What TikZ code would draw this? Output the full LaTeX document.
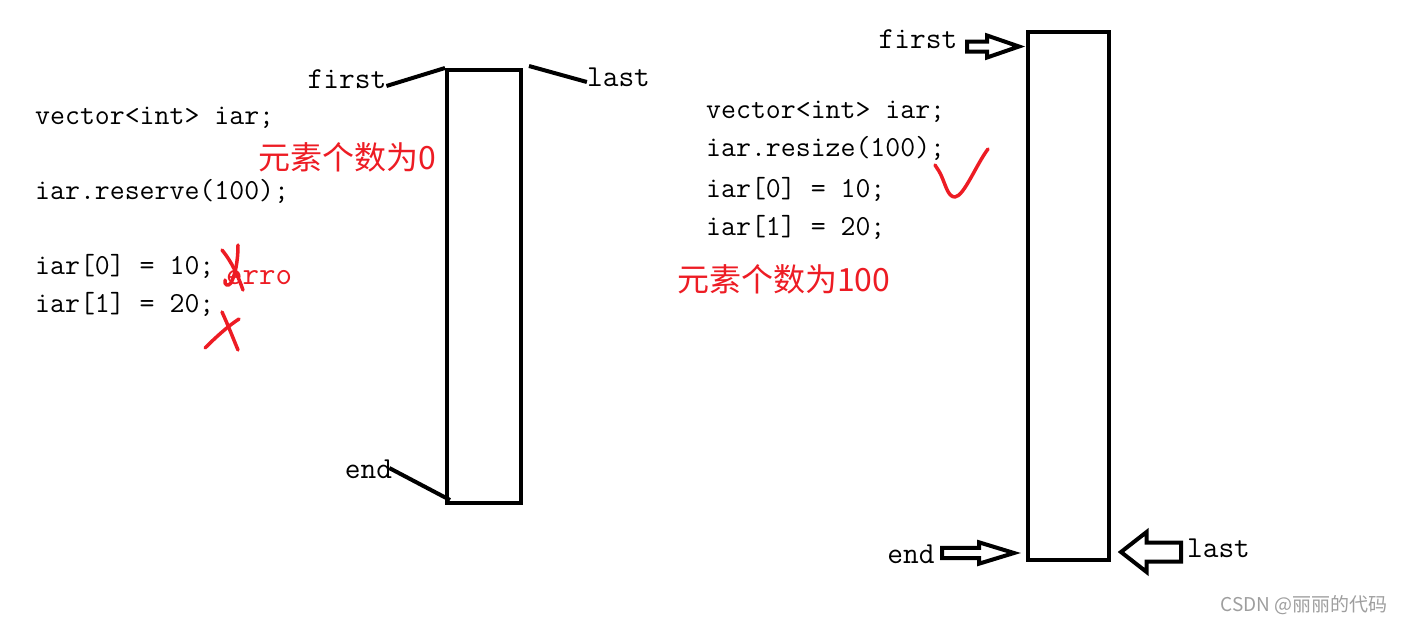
\documentclass[tikz,border=0pt]{standalone}
\usepackage{fontspec}
\newfontfamily\cjk{Noto Sans CJK SC}
\usetikzlibrary{shapes.arrows}
\definecolor{penred}{HTML}{ED1C24}
\definecolor{markgray}{HTML}{9E9E9E}

\begin{document}
\begin{tikzpicture}[x=1pt,y=-1pt,
  code/.style={anchor=west,inner sep=0pt,text height=0.75em,text depth=0.25em,
               font=\ttfamily\fontsize{29}{31}\selectfont},
  tag/.style={inner sep=0pt,text height=0.75em,text depth=0.25em,
              font=\ttfamily\fontsize{30.5}{32}\selectfont},
  note/.style={anchor=west,inner sep=0pt,text=penred,font=\cjk\fontsize{32}{34}\selectfont},
  store/.style={draw,line width=4pt,inner sep=0pt},
  pointer/.style={line width=4pt},
  fatarrow/.style={single arrow,draw,line width=4pt,inner sep=0pt,line join=miter,anchor=tail},
  pen/.style={penred,line width=3.5pt,line cap=round,line join=round}]
  \useasboundingbox (0,0) rectangle (1402,624);

  % left: reserve
  \node[store,minimum width=74,minimum height=433] (lstore) at (484,286.5) {};
  \node[tag] (lfirst) at (347,86) {first};
  \node[tag] (llast) at (618.5,84) {last};
  \node[tag] (lend) at (368.5,476) {end};
  \draw[pointer] (lfirst.east) -- (lstore.north west);
  \draw[pointer] ([xshift=6pt,yshift=2pt]lstore.north east) -- ([yshift=2pt]llast.west);
  \draw[pointer] ([xshift=-3pt,yshift=8pt]lend.east) -- ([xshift=5pt,yshift=5pt]lstore.south west);

  \node[code] (l1) at (35,122) {vector<int> iar;};
  \node[code] (l2) at (35,197) {iar.reserve(100);};
  \node[code] (l3) at (35,272) {iar[0] = 10;};
  \node[code] (l4) at (35,310) {iar[1] = 20;};
  \node[note] (lcount) at (258,157) {元素个数为0};
  \node[anchor=west,inner sep=0pt,text=penred,text height=0.75em,text depth=0.25em,
        font=\ttfamily\fontsize{32}{34}\selectfont] (lerr) at (226,282) {erro};

  % red crosses
  \draw[pen] (222,250) .. controls (232,262) and (238,276) .. (243,290);
  \draw[pen] (238,245) .. controls (238,262) and (235,275) .. (231,283)
             .. controls (228,287) and (224,285) .. (225,280);
  \draw[pen] (222,312) .. controls (228,325) and (233,338) .. (238,350);
  \draw[pen] (205,348) .. controls (215,338) and (228,326) .. (239,319);

  % right: resize
  \node[store,minimum width=81,minimum height=528] (rstore) at (1068.5,296) {};
  \node[tag] (rfirst) at (918,46) {first};
  \node[tag] (rend) at (911,561) {end};
  \node[tag] (rlast) at (1218.5,555) {last};
  \node[fatarrow,inner ysep=3pt,single arrow head extend=6pt,
        single arrow tip angle=38,minimum height=52] (afirst) at (965,46.5) {};
  \node[fatarrow,inner ysep=3.2pt,single arrow head extend=5.5pt,
        single arrow tip angle=34,minimum height=72] (aend) at (940,553) {};
  \node[fatarrow,inner ysep=7.5pt,single arrow head extend=10.5pt,
        single arrow tip angle=76,shape border rotate=180,minimum height=60] (alast) at (1183,552) {};

  \node[code] (r1) at (706,116) {vector<int> iar;};
  \node[code] (r2) at (706,154) {iar.resize(100);};
  \node[code] (r3) at (706,195) {iar[0] = 10;};
  \node[code] (r4) at (706,233) {iar[1] = 20;};
  \node[note] (rcount) at (677,279) {元素个数为100};

  % red tick
  \draw[pen] (935,165) .. controls (938,170) and (940,172) .. (941,175)
             .. controls (946,186) and (948,197) .. (955,197)
             .. controls (964,196) and (976,165) .. (988,149);

  \node[anchor=east,inner sep=0pt,text=markgray,font=\cjk\fontsize{19}{21}\selectfont]
        (mark) at (1388,605) {CSDN @丽丽的代码};
\end{tikzpicture}
\end{document}
